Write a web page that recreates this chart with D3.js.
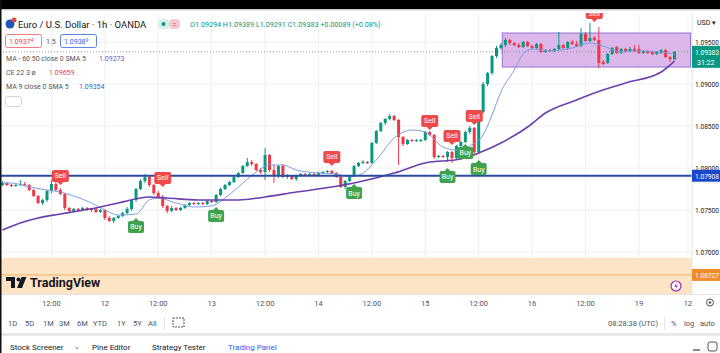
<!DOCTYPE html>
<html><head><meta charset="utf-8">
<script src="https://cdn.jsdelivr.net/npm/d3@7"></script>
<style>
html,body{margin:0;padding:0;background:#fff;}
svg{display:block;font-family:Roboto,"Noto Sans",sans-serif;}
</style></head>
<body>
<svg id="c" width="720" height="353"></svg>
<script>
// ---------- DATA ----------
// hourly candles [open, high, low, close]
const ohlc = [
[1.07798,1.07845,1.07786,1.07821],[1.07821,1.07833,1.07786,1.07798],[1.07798,1.07810,1.07774,1.07786],[1.07786,1.07810,1.07774,1.07798],
[1.07798,1.07857,1.07786,1.07810],[1.07810,1.07833,1.07786,1.07798],[1.07798,1.07810,1.07726,1.07738],[1.07738,1.07750,1.07655,1.07667],
[1.07667,1.07679,1.07571,1.07583],[1.07583,1.07631,1.07560,1.07619],[1.07619,1.07738,1.07595,1.07726],[1.07726,1.07857,1.07702,1.07810],
[1.07810,1.07833,1.07726,1.07738],[1.07738,1.07762,1.07679,1.07690],[1.07690,1.07702,1.07500,1.07524],[1.07524,1.07536,1.07464,1.07488],
[1.07488,1.07524,1.07476,1.07512],[1.07512,1.07524,1.07476,1.07500],[1.07500,1.07536,1.07488,1.07524],[1.07524,1.07536,1.07488,1.07500],
[1.07500,1.07524,1.07476,1.07512],[1.07512,1.07524,1.07464,1.07476],[1.07476,1.07512,1.07464,1.07500],[1.07500,1.07512,1.07381,1.07405],
[1.07405,1.07429,1.07357,1.07369],[1.07369,1.07417,1.07345,1.07405],[1.07405,1.07440,1.07393,1.07429],[1.07429,1.07476,1.07417,1.07464],
[1.07464,1.07536,1.07452,1.07512],[1.07512,1.07631,1.07488,1.07619],[1.07619,1.07762,1.07595,1.07750],[1.07750,1.07869,1.07738,1.07845],
[1.07845,1.07929,1.07821,1.07893],[1.07893,1.07905,1.07774,1.07798],[1.07798,1.07810,1.07679,1.07702],[1.07702,1.07726,1.07631,1.07655],
[1.07655,1.07679,1.07524,1.07548],[1.07548,1.07560,1.07464,1.07488],[1.07488,1.07548,1.07476,1.07524],[1.07524,1.07536,1.07488,1.07500],
[1.07500,1.07536,1.07488,1.07524],[1.07524,1.07571,1.07512,1.07560],[1.07560,1.07595,1.07548,1.07583],[1.07583,1.07595,1.07560,1.07571],
[1.07571,1.07595,1.07560,1.07583],[1.07583,1.07595,1.07560,1.07571],[1.07571,1.07619,1.07560,1.07607],[1.07607,1.07619,1.07583,1.07595],
[1.07595,1.07690,1.07583,1.07679],[1.07679,1.07762,1.07667,1.07750],[1.07750,1.07810,1.07738,1.07798],[1.07798,1.07845,1.07786,1.07833],
[1.07833,1.07905,1.07821,1.07893],[1.07893,1.07952,1.07881,1.07940],[1.07940,1.08036,1.07929,1.08024],[1.08024,1.08119,1.08012,1.08071],
[1.08071,1.08095,1.08024,1.08048],[1.08048,1.08060,1.07964,1.07976],[1.07976,1.08000,1.07929,1.07952],[1.07952,1.08238,1.07857,1.08155],
[1.08155,1.08167,1.07952,1.07976],[1.07976,1.08036,1.07821,1.07905],[1.07905,1.08036,1.07881,1.08024],[1.08024,1.08048,1.07881,1.07893],
[1.07893,1.07929,1.07869,1.07905],[1.07905,1.07917,1.07857,1.07869],[1.07869,1.07917,1.07845,1.07905],[1.07905,1.07940,1.07893,1.07929],
[1.07929,1.07940,1.07905,1.07917],[1.07917,1.07940,1.07905,1.07929],[1.07929,1.07940,1.07905,1.07917],[1.07917,1.07952,1.07905,1.07940],
[1.07940,1.07964,1.07929,1.07952],[1.07952,1.07976,1.07940,1.07964],[1.07964,1.07976,1.07929,1.07940],[1.07940,1.07952,1.07881,1.07893],
[1.07893,1.07905,1.07762,1.07774],[1.07774,1.07857,1.07750,1.07845],[1.07845,1.07917,1.07833,1.07905],[1.07905,1.08036,1.07893,1.08024],
[1.08024,1.08071,1.08012,1.08060],[1.08060,1.08095,1.08048,1.08071],[1.08071,1.08083,1.08048,1.08060],[1.08060,1.08310,1.08048,1.08298],
[1.08298,1.08452,1.08286,1.08440],[1.08440,1.08548,1.08429,1.08536],[1.08536,1.08595,1.08512,1.08583],[1.08583,1.08643,1.08571,1.08619],
[1.08619,1.08631,1.08560,1.08571],[1.08571,1.08583,1.08036,1.08369],[1.08369,1.08381,1.08262,1.08286],[1.08286,1.08345,1.08274,1.08333],
[1.08333,1.08345,1.08310,1.08321],[1.08321,1.08345,1.08310,1.08333],[1.08321,1.08345,1.08310,1.08333],[1.08333,1.08440,1.08321,1.08429],
[1.08429,1.08440,1.08381,1.08393],[1.08393,1.08405,1.08107,1.08131],[1.08131,1.08155,1.08119,1.08143],[1.08143,1.08155,1.08119,1.08131],
[1.08131,1.08202,1.08071,1.08190],[1.08190,1.08202,1.08060,1.08119],[1.08119,1.08274,1.08095,1.08262],[1.08262,1.08321,1.08238,1.08310],
[1.08310,1.08440,1.08298,1.08429],[1.08429,1.08500,1.08405,1.08476],[1.08476,1.08488,1.08167,1.08190],[1.08190,1.08690,1.08167,1.08667],
[1.08667,1.09024,1.08643,1.09000],[1.09000,1.09143,1.08976,1.09131],[1.09131,1.09345,1.09107,1.09333],[1.09333,1.09452,1.09310,1.09429],
[1.09429,1.09488,1.09405,1.09464],[1.09464,1.09548,1.09440,1.09524],[1.09524,1.09536,1.09464,1.09488],[1.09488,1.09500,1.09452,1.09464],
[1.09464,1.09488,1.09429,1.09440],[1.09440,1.09512,1.09429,1.09500],[1.09500,1.09512,1.09440,1.09452],[1.09452,1.09464,1.09417,1.09429],
[1.09429,1.09488,1.09417,1.09476],[1.09476,1.09488,1.09369,1.09381],[1.09381,1.09417,1.09369,1.09405],[1.09405,1.09417,1.09381,1.09393],
[1.09393,1.09429,1.09381,1.09417],[1.09417,1.09619,1.09405,1.09464],[1.09464,1.09476,1.09417,1.09429],[1.09429,1.09512,1.09405,1.09500],
[1.09500,1.09524,1.09464,1.09476],[1.09476,1.09512,1.09440,1.09452],[1.09452,1.09667,1.09440,1.09595],[1.09595,1.09619,1.09500,1.09512],
[1.09512,1.09726,1.09500,1.09548],[1.09548,1.09571,1.09512,1.09524],[1.09524,1.09679,1.09190,1.09250],[1.09262,1.09286,1.09226,1.09238],
[1.09250,1.09369,1.09238,1.09357],[1.09357,1.09440,1.09345,1.09429],[1.09440,1.09452,1.09357,1.09369],[1.09369,1.09429,1.09357,1.09417],
[1.09417,1.09429,1.09381,1.09393],[1.09393,1.09440,1.09381,1.09417],[1.09417,1.09464,1.09381,1.09393],[1.09417,1.09464,1.09357,1.09369],
[1.09369,1.09405,1.09357,1.09393],[1.09393,1.09405,1.09357,1.09369],[1.09381,1.09393,1.09345,1.09357],[1.09357,1.09393,1.09345,1.09381],
[1.09369,1.09417,1.09357,1.09405],[1.09405,1.09417,1.09310,1.09321],[1.09321,1.09333,1.09262,1.09298],[1.09294,1.09389,1.09291,1.09383]
];
// MA 60 (purple) sampled at candle index
const maSlow = [[0,1.07262],[4,1.07345],[8,1.07405],[13,1.07452],[17,1.07488],[22,1.07536],[26,1.07583],[33,1.07655],[37,1.07643],
[44,1.07619],[53,1.07619],[59,1.07655],[66,1.07714],[74,1.07774],[80,1.07833],[88,1.07940],[95,1.08060],[103,1.08107],[107,1.08179],
[112,1.08298],[118,1.08488],[122,1.08655],[129,1.08810],[133,1.08893],[140,1.09012],[148,1.09143],[151,1.09273]];
// MA 9 (blue) sampled at candle index
const maFast = [[0,1.07821],[2,1.07821],[6,1.07774],[10,1.07738],[13,1.07714],[16,1.07667],[20,1.07583],[23,1.07500],[26,1.07440],
[30,1.07452],[33,1.07619],[35,1.07643],[39,1.07583],[43,1.07536],[47,1.07548],[50,1.07643],[53,1.07774],[57,1.07952],[60,1.08036],
[63,1.08036],[66,1.07976],[71,1.07940],[75,1.07929],[78,1.07893],[81,1.07940],[84,1.08095],[88,1.08357],[92,1.08452],[95,1.08429],
[99,1.08250],[102,1.08214],[105,1.08262],[108,1.08393],[110,1.08631],[112,1.08905],[115,1.09167],[117,1.09357],[119,1.09417],
[123,1.09393],[128,1.09429],[132,1.09488],[135,1.09452],[139,1.09381],[143,1.09393],[148,1.09381],[151,1.09354]];
// signals [candle index, label price]
const sellSignals = [[13,1.07905],[36,1.07881],[74,1.08131],[96,1.08560],[101,1.08381],[106,1.08619],[133,1.09845]];
const buySignals = [[30,1.07298],[48,1.07429],[79,1.07702],[100,1.07893],[104,1.08179],[107,1.07988]];
// time axis ticks [candle index, label]
const timeTicks = [[11,"12:00"],[23,"12"],[35,"12:00"],[47,"13"],[59,"12:00"],[71,"14"],[83,"12:00"],[95,"15"],[107,"12:00"],[119,"16"],[131,"12:00"],[143,"19"],[154,"12"]];
const priceTicks = [1.095,1.090,1.085,1.080,1.075,1.070];
const priceTickLabels = ["1.09500","1.09000","1.08500","1.08000","1.07500","1.07000"];
const lastPrice = 1.09383, hLine = 1.07908, orangeLine = 1.06727, bandTop = 1.06930;
const rangeBox = {i0:112.3, i1:154.6, top:1.09607, bottom:1.09202};
const periods = ["1D","5D","1M","3M","6M","YTD","1Y","5Y","All"];
const bottomTabs = ["Stock Screener","Pine Editor","Strategy Tester","Trading Panel"];

// ---------- SCALES ----------
const svg = d3.select("#c");
const W = 720, H = 353, paneR = 692, paneTop = 13, paneBot = 294;
const x = d3.scaleLinear().domain([0, ohlc.length-1]).range([2.5, 674.5]);
const y = d3.scaleLinear().domain([1.07, 1.095]).range([252, 42]);
const UP = "#089981", DN = "#f23645";

svg.append("rect").attr("width",W).attr("height",H).attr("fill","#fff");
svg.append("defs").append("clipPath").attr("id","pane").append("rect")
  .attr("x",0).attr("y",paneTop).attr("width",paneR).attr("height",paneBot-paneTop);
const pane = svg.append("g").attr("clip-path","url(#pane)");

// grid
pane.selectAll(".hg").data(priceTicks).join("line")
  .attr("x1",0).attr("x2",paneR).attr("y1",d=>y(d)).attr("y2",d=>y(d))
  .attr("stroke","#eef0f4").attr("stroke-width",1);
pane.selectAll(".vg").data(timeTicks).join("line")
  .attr("x1",d=>x(d[0])).attr("x2",d=>x(d[0])).attr("y1",paneTop).attr("y2",paneBot)
  .attr("stroke","#eef0f4").attr("stroke-width",1);

// orange band
pane.append("rect").attr("x",0).attr("width",paneR)
  .attr("y",y(bandTop)).attr("height",paneBot - y(bandTop)).attr("fill","#fde4c4");
pane.append("line").attr("x1",0).attr("x2",paneR).attr("y1",y(orangeLine)).attr("y2",y(orangeLine))
  .attr("stroke","#f3b061").attr("stroke-width",1);

// range box
pane.append("rect").attr("x",x(rangeBox.i0)).attr("y",y(rangeBox.top))
  .attr("width",x(rangeBox.i1)-x(rangeBox.i0)).attr("height",y(rangeBox.bottom)-y(rangeBox.top))
  .attr("fill","#dcb7ea").attr("stroke","#9272cf").attr("stroke-width",1);

// last price dotted line
pane.append("line").attr("x1",0).attr("x2",paneR).attr("y1",y(lastPrice)).attr("y2",y(lastPrice))
  .attr("stroke","#8a8f99").attr("stroke-width",1).attr("stroke-dasharray","1,2");

// candles
const cg = pane.append("g");
cg.selectAll(".wick").data(ohlc).join("line")
  .attr("x1",(d,i)=>x(i)).attr("x2",(d,i)=>x(i))
  .attr("y1",d=>y(d[1])).attr("y2",d=>y(d[2]))
  .attr("stroke",d=>d[3]>=d[0]?UP:DN).attr("stroke-width",1);
cg.selectAll(".body").data(ohlc).join("rect")
  .attr("x",(d,i)=>x(i)-1.5).attr("width",3)
  .attr("y",d=>y(Math.max(d[0],d[3])))
  .attr("height",d=>Math.max(1,Math.abs(y(d[0])-y(d[3]))))
  .attr("fill",d=>d[3]>=d[0]?UP:DN);

// MA lines
const line = d3.line().x(d=>x(d[0])).y(d=>y(d[1])).curve(d3.curveMonotoneX);
pane.append("path").datum(maFast).attr("d",line).attr("fill","none").attr("stroke","#7f9be3").attr("stroke-width",1);
pane.append("path").datum(maSlow).attr("d",line).attr("fill","none").attr("stroke","#6b3fae").attr("stroke-width",1.6);

// horizontal blue line
pane.append("line").attr("x1",0).attr("x2",paneR).attr("y1",y(hLine)).attr("y2",y(hLine))
  .attr("stroke","#2b4d9e").attr("stroke-width",2);

// signal labels
function label(g, cx, cy, txt, col, up){
  const w = txt==="Sell"?17:16, h = 12;
  g.append("rect").attr("x",cx-w/2).attr("y",cy-h/2).attr("width",w).attr("height",h).attr("rx",2).attr("fill",col);
  const t = up ? [[cx-3,cy-h/2],[cx+3,cy-h/2],[cx,cy-h/2-3]] : [[cx-3,cy+h/2],[cx+3,cy+h/2],[cx,cy+h/2+3]];
  g.append("path").attr("d","M"+t.map(p=>p.join(",")).join("L")+"Z").attr("fill",col);
  g.append("text").attr("x",cx).attr("y",cy+2.5).attr("text-anchor","middle")
    .attr("font-size",7).attr("fill","#fff").text(txt);
}
const lg = pane.append("g");
sellSignals.forEach(s=>label(lg, x(s[0]), y(s[1]), "Sell", "#ef4a4a", false));
buySignals.forEach(s=>label(lg, x(s[0]), y(s[1]), "Buy", "#3fa34d", true));

// TradingView logo in band
const logo = pane.append("g").attr("fill","#131722");
logo.append("path").attr("d","M6,277 H15 V288 H11 V281 H6 Z");
logo.append("circle").attr("cx",18.5).attr("cy",279.5).attr("r",2);
logo.append("path").attr("d","M21.5,277 H26.5 L22,288 H17 Z");
logo.append("text").attr("x",30).attr("y",287).attr("font-size",12.5).attr("font-weight","700").text("TradingView");
// lightning icon
pane.append("circle").attr("cx",676).attr("cy",286).attr("r",5).attr("fill","#fff").attr("stroke","#9c27b0").attr("stroke-width",1.2);
pane.append("path").attr("d","M677,282.5 L674.2,286.5 H676.3 L675.2,289.5 L678,285.5 H675.9 Z").attr("fill","#9c27b0");

// ---------- PRICE AXIS ----------
svg.append("line").attr("x1",paneR).attr("x2",paneR).attr("y1",paneTop).attr("y2",paneBot).attr("stroke","#e0e3eb");
svg.append("text").attr("x",697).attr("y",25).attr("font-size",7).attr("fill","#131722").text("USD ▾");
svg.selectAll(".pt").data(priceTicks).join("text")
  .attr("x",695).attr("y",d=>y(d)+3).attr("font-size",7).attr("fill","#131722")
  .attr("textLength",24).attr("lengthAdjust","spacingAndGlyphs")
  .text((d,i)=>priceTickLabels[i]);
function plabel(p, txt, col, extra){
  const cy = y(p);
  const h = extra?22:12;
  svg.append("rect").attr("x",paneR).attr("y",cy-6).attr("width",W-paneR).attr("height",h).attr("fill",col);
  svg.append("text").attr("x",695).attr("y",cy+3).attr("font-size",7).attr("fill","#fff")
    .attr("textLength",24).attr("lengthAdjust","spacingAndGlyphs").text(txt);
  if(extra) svg.append("text").attr("x",697).attr("y",cy+13).attr("font-size",7).attr("fill","#fff").text(extra);
}
plabel(lastPrice,"1.09383",UP,"31:22");
plabel(hLine,"1.07908","#1a49c9");
plabel(orangeLine,"1.06727","#f08c2a");

// ---------- TIME AXIS ----------
svg.append("line").attr("x1",0).attr("x2",W).attr("y1",paneBot+0.5).attr("y2",paneBot+0.5).attr("stroke","#e0e3eb");
svg.selectAll(".tt").data(timeTicks).join("text")
  .attr("x",d=>x(d[0])).attr("y",306).attr("text-anchor","middle")
  .attr("font-size",7.5).attr("fill","#50535e").text(d=>d[1]);
svg.append("circle").attr("cx",710).attr("cy",302.5).attr("r",3.5).attr("fill","none").attr("stroke","#50535e").attr("stroke-width",1);
svg.append("circle").attr("cx",710).attr("cy",302.5).attr("r",1.2).attr("fill","#50535e");

// toolbar
const px = [8,25,43,59,77,93,117,133,148];
svg.selectAll(".per").data(periods).join("text")
  .attr("x",(d,i)=>px[i]).attr("y",326).attr("font-size",7.5).attr("fill","#50535e").text(d=>d);
svg.append("line").attr("x1",164.5).attr("x2",164.5).attr("y1",317).attr("y2",330).attr("stroke","#e0e3eb");
svg.append("rect").attr("x",173).attr("y",318).attr("width",11).attr("height",9).attr("fill","none").attr("stroke","#50535e").attr("stroke-dasharray","2,1");
svg.append("text").attr("x",658).attr("y",326).attr("text-anchor","end").attr("font-size",7.5).attr("fill","#50535e").text("08:28:38 (UTC)");
svg.append("line").attr("x1",664.5).attr("x2",664.5).attr("y1",317).attr("y2",330).attr("stroke","#e0e3eb");
svg.append("text").attr("x",671).attr("y",326).attr("font-size",7.5).attr("fill","#50535e").text("%");
svg.append("text").attr("x",684).attr("y",326).attr("font-size",7.5).attr("fill","#50535e").text("log");
svg.append("text").attr("x",700).attr("y",326).attr("font-size",7.5).attr("fill","#50535e").text("auto");
svg.append("rect").attr("x",0).attr("y",333).attr("width",W).attr("height",3).attr("fill","#e6e8ec");
// bottom tabs
const tx = [10,92,152,228];
svg.selectAll(".tab").data(bottomTabs).join("text")
  .attr("x",(d,i)=>tx[i]).attr("y",350).attr("font-size",8)
  .attr("fill",(d,i)=>i===3?"#2962ff":"#131722").text(d=>d);
svg.append("text").attr("x",74).attr("y",349).attr("font-size",7).attr("fill","#50535e").text("⌄");
svg.append("line").attr("x1",693).attr("x2",700).attr("y1",350).attr("y2",350).attr("stroke","#131722");
svg.append("rect").attr("x",708).attr("y",342).attr("width",9).attr("height",9).attr("rx",2).attr("fill","none").attr("stroke","#50535e");

// ---------- HEADER / LEGEND ----------
svg.append("circle").attr("cx",10).attr("cy",24).attr("r",4.5).attr("fill","#1c58b5");
svg.append("circle").attr("cx",14).attr("cy",20).attr("r",2.5).attr("fill","#d84c4c");
svg.append("text").attr("x",18).attr("y",28).attr("font-size",9.5).attr("fill","#131722").text("Euro / U.S. Dollar · 1h · OANDA");
svg.append("rect").attr("x",158).attr("y",19).attr("width",11).attr("height",10).attr("rx",4).attr("fill","#d7f1e8");
svg.append("circle").attr("cx",163.5).attr("cy",24).attr("r",2).attr("fill","#089981");
svg.append("rect").attr("x",169).attr("y",19).attr("width",11).attr("height",10).attr("rx",4).attr("fill","#f7c9d3");
svg.append("text").attr("x",174.5).attr("y",27).attr("text-anchor","middle").attr("font-size",8).attr("fill","#f23645").text("=");
svg.append("text").attr("x",190).attr("y",27).attr("font-size",7.2).attr("fill","#089981")
  .text("O1.09294 H1.09389 L1.09291 C1.09383 +0.00089 (+0.08%)");
// bid / ask boxes
function quote(bx, main, sup, stroke, col){
  svg.append("rect").attr("x",bx+0.5).attr("y",34.5).attr("width",36).attr("height",13).attr("rx",2).attr("fill","#fff").attr("stroke",stroke);
  const t = svg.append("text").attr("x",bx+4).attr("y",44).attr("font-size",7).attr("fill",col);
  t.append("tspan").text(main);
  t.append("tspan").attr("font-size",5).attr("dy",-2.5).text(sup);
}
quote(5,"1.0937","4","#f07d7d","#f23645");
svg.append("text").attr("x",46).attr("y",44).attr("font-size",7).attr("fill","#50535e").text("1.5");
quote(60,"1.0938","9","#5c85e6","#2962ff");
// indicator legends
const leg = [["MA - 60 50 close 0 SMA 5","1.09273","#7b52c8",61,99],["CE 22 3   ø","1.09659","#f23645",75,49],["MA 9 close 0 SMA 5","1.09354","#2f66d8",89,79]];
leg.forEach(l=>{
  svg.append("text").attr("x",6).attr("y",l[3]).attr("font-size",7).attr("fill","#50535e").text(l[0]);
  svg.append("text").attr("x",l[4]).attr("y",l[3]).attr("font-size",7).attr("fill",l[2]).text(l[1]);
});
svg.append("rect").attr("x",5.5).attr("y",96.5).attr("width",16).attr("height",10).attr("rx",2).attr("fill","#fff").attr("stroke","#d1d4dc");

// black frame (top strip and left edge)
svg.append("rect").attr("x",0).attr("y",0).attr("width",W).attr("height",9).attr("fill","#000");
svg.append("rect").attr("x",0).attr("y",9).attr("width",W).attr("height",1.5).attr("fill","#c9ccd3");
svg.append("rect").attr("x",0).attr("y",0).attr("width",1.5).attr("height",H).attr("fill","#111");
</script>
</body></html>
